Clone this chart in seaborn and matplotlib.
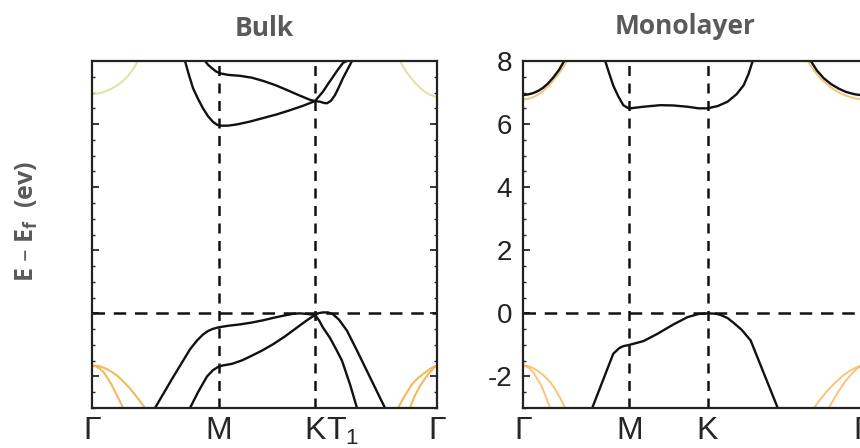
import numpy as np
import pandas as pd
import matplotlib
matplotlib.use("Agg")
import matplotlib.pyplot as plt
import seaborn as sns

sns.set_style("ticks")
plt.rcParams["font.family"] = ["Liberation Sans", "DejaVu Sans"]
plt.rcParams["axes.unicode_minus"] = False
plt.rcParams["mathtext.default"] = "regular"

# ---------------- data (k-path position, energy in eV) ----------------
# Bulk panel high-symmetry points
bulk_kticks = [0, 127, 223, 251, 345]
bulk_klabels = ["Γ", "M", "K", "T$_1$", "Γ"]
# Monolayer panel high-symmetry points
mono_kticks = [0, 106, 184, 338]
mono_klabels = ["Γ", "M", "K", "Γ"]

# Bulk conduction bands
bulk_c1_k = [93, 97, 101, 106, 111, 116, 121, 125, 128, 136, 145, 158, 171, 185, 198, 211, 223, 227, 231, 236, 241, 246, 251, 255]
bulk_c1_e = [8.0, 7.55, 7.14, 6.8, 6.5, 6.25, 6.07, 5.98, 5.95, 5.95, 5.99, 6.08, 6.19, 6.31, 6.44, 6.58, 6.73, 6.88, 7.03, 7.27, 7.5, 7.73, 7.94, 8.0]
bulk_c2_k = [113, 116, 120, 124, 128, 136, 148, 160, 171, 183, 195, 208, 218, 223, 228, 232, 235, 239, 243, 247, 251, 256, 260]
bulk_c2_e = [8.0, 7.88, 7.77, 7.67, 7.61, 7.56, 7.53, 7.47, 7.37, 7.24, 7.08, 6.9, 6.77, 6.73, 6.71, 6.67, 6.66, 6.74, 6.92, 7.18, 7.46, 7.76, 8.0]
# Bulk valence bands
bulk_v1_k = [63, 80, 98, 105, 111, 116, 121, 127, 137, 148, 160, 171, 183, 195, 202, 208, 216, 223, 227, 231, 236, 241, 247, 255, 265, 279, 293]
bulk_v1_e = [-3.0, -2.08, -1.14, -0.86, -0.67, -0.56, -0.49, -0.44, -0.39, -0.35, -0.29, -0.22, -0.13, -0.05, -0.01, 0.0, -0.02, -0.05, 0.01, 0.03, 0.03, -0.03, -0.2, -0.55, -1.18, -2.09, -3.0]
bulk_v2_k = [98, 106, 115, 121, 126, 131, 140, 150, 158, 170, 181, 193, 205, 214, 223, 227, 231, 238, 244, 250, 258, 265]
bulk_v2_e = [-3.0, -2.5, -2.0, -1.8, -1.7, -1.65, -1.6, -1.49, -1.37, -1.18, -0.98, -0.73, -0.45, -0.24, -0.05, -0.22, -0.45, -0.78, -1.13, -1.5, -2.25, -3.0]
# Bulk orange bands near Gamma
bulk_o1_k = [0, 4, 8, 12, 15, 19, 23, 27, 31]
bulk_o1_e = [-1.65, -1.68, -1.76, -1.88, -2.03, -2.23, -2.48, -2.73, -3.0]
bulk_o2_k = [0, 7, 13, 19, 25, 31, 38, 45, 53]
bulk_o2_e = [-1.65, -1.67, -1.74, -1.84, -1.97, -2.15, -2.38, -2.66, -3.0]
bulk_o3_k = [306, 313, 320, 326, 332, 336, 340, 343, 345]
bulk_o3_e = [-3.0, -2.6, -2.25, -2.05, -1.9, -1.81, -1.72, -1.67, -1.65]
bulk_o4_k = [318, 323, 328, 333, 337, 340, 342, 345]
bulk_o4_e = [-3.0, -2.6, -2.3, -2.07, -1.9, -1.8, -1.72, -1.65]
bulk_y1_k = [0, 6, 12, 18, 24, 30, 36, 41, 46]
bulk_y1_e = [6.95, 6.97, 7.02, 7.1, 7.2, 7.34, 7.52, 7.74, 8.0]
bulk_y2_k = [308, 313, 318, 323, 328, 333, 338, 342, 345]
bulk_y2_e = [8.0, 7.72, 7.5, 7.31, 7.15, 7.02, 6.93, 6.88, 6.86]

# Monolayer bands
mono_c_k = [82, 86, 90, 95, 100, 104, 107, 120, 137, 150, 164, 175, 184, 194, 204, 213, 220, 225, 229]
mono_c_e = [8.0, 7.6, 7.22, 6.88, 6.6, 6.52, 6.5, 6.55, 6.6, 6.59, 6.55, 6.5, 6.5, 6.57, 6.71, 6.95, 7.23, 7.6, 8.0]
mono_v_k = [69, 80, 90, 96, 100, 106, 120, 134, 150, 164, 175, 184, 192, 197, 204, 210, 218, 227, 240, 254]
mono_v_e = [-3.0, -2.1, -1.28, -1.1, -1.04, -1.0, -0.88, -0.65, -0.35, -0.12, -0.02, 0.0, -0.01, -0.05, -0.15, -0.3, -0.52, -0.86, -1.89, -3.0]
mono_cg1_k = [0, 5, 10, 15, 20, 25, 30, 36, 41]
mono_cg1_e = [6.92, 6.94, 6.98, 7.05, 7.15, 7.29, 7.47, 7.72, 8.0]
mono_cg2_k = [287, 293, 300, 307, 315, 322, 330, 334, 338]
mono_cg2_e = [8.0, 7.7, 7.45, 7.27, 7.12, 7.02, 6.95, 6.93, 6.92]
mono_o1_k = [0, 5, 10, 15, 20, 26, 32, 38, 44]
mono_o1_e = [6.78, 6.8, 6.85, 6.93, 7.05, 7.22, 7.45, 7.7, 8.0]
mono_o2_k = [284, 290, 298, 306, 315, 322, 330, 334, 338]
mono_o2_e = [8.0, 7.7, 7.4, 7.18, 7.0, 6.9, 6.82, 6.8, 6.78]
mono_o3_k = [0, 4, 7, 11, 14, 18, 21, 24, 27]
mono_o3_e = [-1.65, -1.69, -1.77, -1.9, -2.07, -2.27, -2.5, -2.74, -3.0]
mono_o4_k = [0, 6, 11, 16, 21, 27, 32, 37, 42]
mono_o4_e = [-1.65, -1.68, -1.75, -1.85, -1.98, -2.17, -2.4, -2.68, -3.0]
mono_o5_k = [290, 298, 305, 312, 318, 324, 330, 334, 338]
mono_o5_e = [-3.0, -2.66, -2.4, -2.18, -2.0, -1.86, -1.75, -1.69, -1.65]
mono_o6_k = [305, 311, 316, 321, 326, 330, 333, 336, 338]
mono_o6_e = [-3.0, -2.66, -2.4, -2.17, -1.98, -1.85, -1.75, -1.69, -1.65]

yticks = [-2, 0, 2, 4, 6, 8]

# ---------------- figure ----------------
W, H = 860, 448
fig = plt.figure(figsize=(W / 100, H / 100), dpi=100)
axL = fig.add_axes([92 / W, (H - 408) / H, (437 - 92) / W, (408 - 61) / H])
axR = fig.add_axes([523 / W, (H - 408) / H, (862 - 523) / W, (408 - 61) / H])

BLACK = "#111111"
ORANGE = "#f3b24c"
PALE = "#dede96"
LW = 1.7


def band(ax, k, e, color=BLACK, lw=LW, alpha=1.0):
    sns.lineplot(x=k, y=e, ax=ax, color=color, linewidth=lw, sort=False,
                 estimator=None, alpha=alpha, legend=False)


def frame(ax, kticks, klabels, xmax, ylabels):
    ax.set_xlim(0, xmax)
    ax.set_ylim(-3, 8)
    for kv in kticks[1:3]:
        ax.axvline(kv, color=BLACK, lw=1.8, dashes=(4, 3), zorder=1)
    ax.axhline(0, color=BLACK, lw=1.8, dashes=(5, 3.5), zorder=1)
    ax.set_xticks(kticks)
    ax.set_xticklabels(klabels, fontsize=23)
    ax.tick_params(axis="x", length=0, pad=6)
    ax.set_yticks(yticks)
    ax.set_yticks(np.arange(-3, 8.01, 0.5), minor=True)
    ax.tick_params(axis="y", which="major", direction="in", length=5, width=1.3,
                   left=True, right=True, pad=8)
    ax.tick_params(axis="y", which="minor", direction="in", length=2.5, width=1.0,
                   left=True, right=True)
    if ylabels:
        ax.set_yticklabels([str(v) for v in yticks], fontsize=20, color="#222222")
    else:
        ax.set_yticklabels([])
    for s in ax.spines.values():
        s.set_visible(True)
        s.set_linewidth(1.6)
        s.set_color("#222222")
    ax.set_xlabel("")
    ax.set_ylabel("")


# Bulk panel
for k, e in [(bulk_o1_k, bulk_o1_e), (bulk_o2_k, bulk_o2_e),
             (bulk_o3_k, bulk_o3_e), (bulk_o4_k, bulk_o4_e)]:
    band(axL, k, e, color=ORANGE, lw=1.5, alpha=0.9)
for k, e in [(bulk_y1_k, bulk_y1_e), (bulk_y2_k, bulk_y2_e)]:
    band(axL, k, e, color=PALE, lw=1.4, alpha=0.9)
for k, e in [(bulk_c1_k, bulk_c1_e), (bulk_c2_k, bulk_c2_e),
             (bulk_v1_k, bulk_v1_e), (bulk_v2_k, bulk_v2_e)]:
    band(axL, k, e)
frame(axL, bulk_kticks, bulk_klabels, 345, False)

# Monolayer panel
for k, e in [(mono_o1_k, mono_o1_e), (mono_o2_k, mono_o2_e),
             (mono_o3_k, mono_o3_e), (mono_o4_k, mono_o4_e),
             (mono_o5_k, mono_o5_e), (mono_o6_k, mono_o6_e)]:
    band(axR, k, e, color=ORANGE, lw=1.4, alpha=0.75)
for k, e in [(mono_c_k, mono_c_e), (mono_v_k, mono_v_e),
             (mono_cg1_k, mono_cg1_e), (mono_cg2_k, mono_cg2_e)]:
    band(axR, k, e)
frame(axR, mono_kticks, mono_klabels, 338, True)
axR.tick_params(axis="y", which="both", right=False)

# Titles and y label
TITLE_FONT = ["Open Sans", "DejaVu Sans"]
fig.text(264 / W, 1 - 28 / H, "Bulk", ha="center", va="center", fontsize=19,
         fontweight="bold", color="#5a5a5a", family=TITLE_FONT)
fig.text(685 / W, 1 - 26 / H, "Monolayer", ha="center", va="center", fontsize=19,
         fontweight="bold", color="#5a5a5a", family=TITLE_FONT)
fig.text(27 / W, 1 - 221 / H, "E – E$_f$  (ev)", ha="center", va="center",
         rotation=90, fontsize=18, fontweight="bold", color="#5a5a5a",
         family=TITLE_FONT)

fig.savefig("out.png", dpi=100, facecolor="white")
